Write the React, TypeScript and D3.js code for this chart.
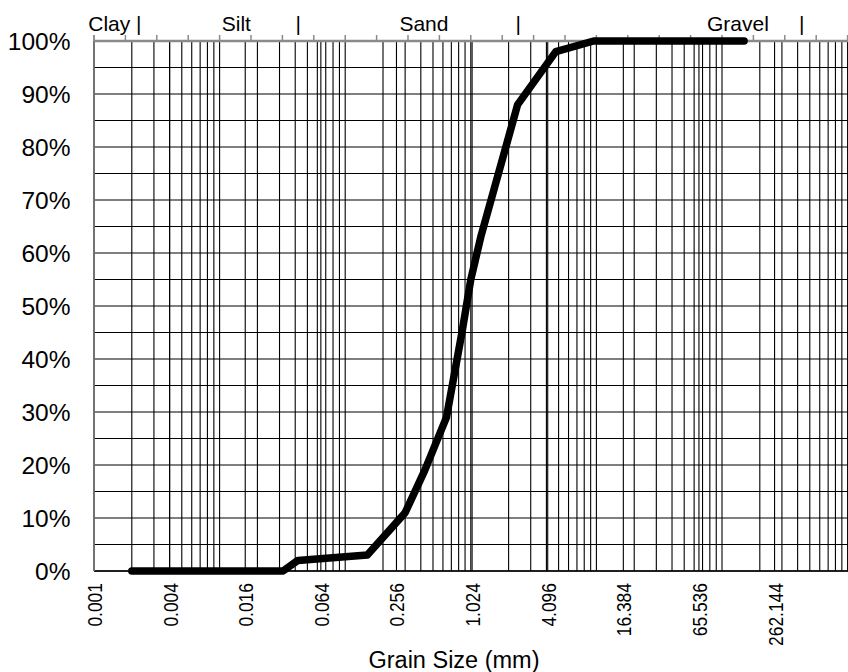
import React from "react";
import * as d3 from "d3";

// Grain size distribution (sieve analysis): cumulative percent passing vs grain size
const grainSize = [0.002, 0.032, 0.042, 0.15, 0.3, 0.43, 0.64, 0.85, 1.0, 1.2, 2.36, 4.75, 9.5, 150];
const percentPassing = [0, 0, 2, 3, 11, 19, 29, 45, 55, 63, 88, 98, 100, 100];

// Bottom axis labels sit on powers of four (in micrometres)
const xTickValues = [0.001, 0.004, 0.016, 0.064, 0.256, 1.024, 4.096, 16.384, 65.536, 262.144];
const xTickLabels = ["0.001", "0.004", "0.016", "0.064", "0.256", "1.024", "4.096", "16.384", "65.536", "262.144"];

const yTickValues = [0, 10, 20, 30, 40, 50, 60, 70, 80, 90, 100];
const yTickLabels = ["0%", "10%", "20%", "30%", "40%", "50%", "60%", "70%", "80%", "90%", "100%"];

// Soil class captions along the top, anchored at grain sizes
const classLabels = ["Clay |", "Silt", "|", "Sand", "|", "Gravel", "|"];
const classAnchors = [0.0009, 0.0104, 0.0423, 0.27, 2.39, 76, 431];

const WIDTH = 848;
const HEIGHT = 672;
const FONT = "'Liberation Sans', Arial, Helvetica, sans-serif";

export default function App() {
  const x = d3.scaleLog().domain([0.001, 1000]).range([94, 847.6]);
  const y = d3.scaleLinear().domain([0, 100]).range([571, 41]);

  // Log grid: 1..9 within each decade, plus the labelled power-of-four sizes
  const decadeLines: number[] = [];
  for (let e = -3; e <= 2; e++) {
    for (let m = 1; m <= 9; m++) decadeLines.push(m * Math.pow(10, e));
  }
  decadeLines.push(1000);
  const vLines = decadeLines.concat(xTickValues);

  const hLines = d3.range(0, 101, 5);

  // Secondary scale ticks along the top edge (quarter-decade steps)
  const topTicks = d3.range(0, 25).map((j) => Math.pow(10, -3 + j / 4));

  const points: [number, number][] = grainSize.map((g, i) => [g, percentPassing[i]]);
  const line = d3
    .line<[number, number]>()
    .x((d) => x(d[0]))
    .y((d) => y(d[1]));

  const [x0] = x.range();
  const [yBottom, yTop] = y.range();

  return (
    <svg
      width={WIDTH}
      height={HEIGHT}
      style={{ position: "absolute", left: 0, top: 0, background: "#fff" }}
      fontFamily={FONT}
    >
      <rect width={WIDTH} height={HEIGHT} fill="#fff" />
      <g>
        {hLines.map((v) => (
          <line key={"h" + v} x1={x0} x2={WIDTH} y1={y(v)} y2={y(v)} stroke="#000" strokeWidth={1.1} />
        ))}
        {vLines.map((v, i) => (
          <line key={"v" + i} x1={x(v)} x2={x(v)} y1={yTop} y2={yBottom} stroke="#000" strokeWidth={1.1} />
        ))}
      </g>

      {/* frame */}
      <line x1={x0} x2={WIDTH} y1={yBottom} y2={yBottom} stroke="#000" strokeWidth={1.3} />
      <line x1={x0} x2={x0} y1={yTop - 6} y2={yBottom} stroke="#888" strokeWidth={1.5} />
      <line x1={x0} x2={WIDTH} y1={yTop} y2={yTop} stroke="#8a8a8a" strokeWidth={2.5} />
      {topTicks.map((v, i) => (
        <line key={"t" + i} x1={x(v)} x2={x(v)} y1={yTop - 6} y2={yTop} stroke="#8a8a8a" strokeWidth={1.5} />
      ))}

      {/* gradation curve */}
      <path
        d={line(points) || ""}
        fill="none"
        stroke="#000"
        strokeWidth={7.5}
        strokeLinejoin="round"
        strokeLinecap="round"
      />

      {/* y axis labels */}
      {yTickValues.map((v, i) => (
        <text key={"yl" + v} x={70.5} y={y(v) + 9} textAnchor="end" fontSize={24.5} fill="#000">
          {yTickLabels[i]}
        </text>
      ))}

      {/* x axis labels */}
      {xTickValues.map((v, i) => (
        <text
          key={"xl" + i}
          transform={`translate(${x(v) + 8},${yBottom + 12}) rotate(-90) scale(0.85,1)`}
          textAnchor="end"
          fontSize={20.5}
          fill="#000"
        >
          {xTickLabels[i]}
        </text>
      ))}

      {/* class labels along the top */}
      {classLabels.map((t, i) => (
        <text
          key={"c" + i}
          x={x(classAnchors[i])}
          y={30.5}
          textAnchor={t === "|" ? "middle" : "start"}
          fontSize={21}
          fill="#000"
        >
          {t}
        </text>
      ))}

      <text x={454} y={668} textAnchor="middle" fontSize={23.5} fill="#000">
        Grain Size (mm)
      </text>
    </svg>
  );
}
